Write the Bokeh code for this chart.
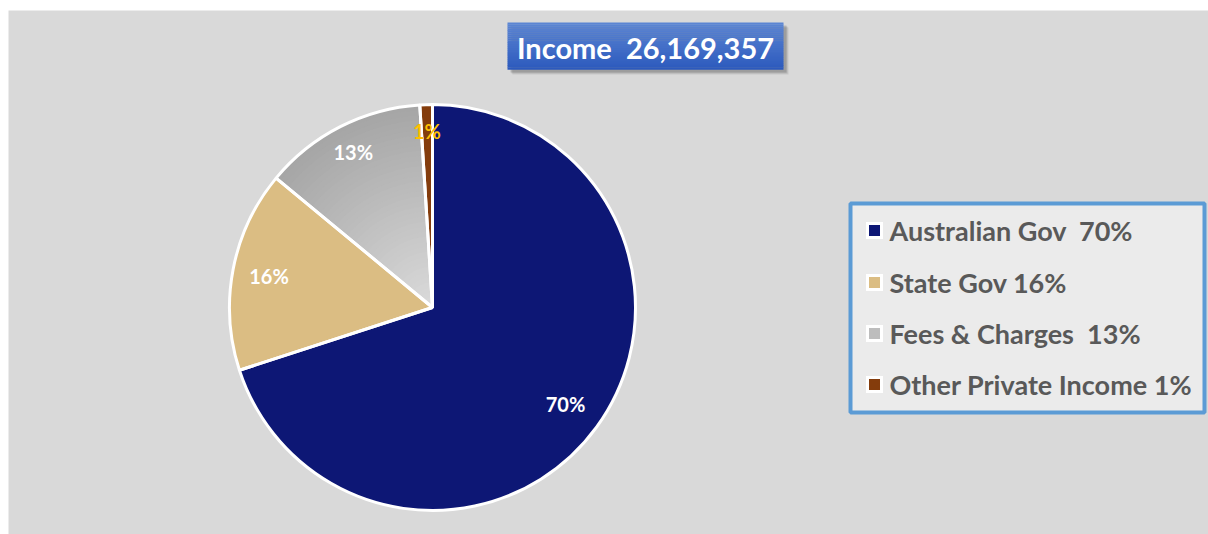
import numpy as np
from bokeh.plotting import figure
from bokeh.models import Range1d
from bokeh.embed import file_html
from bokeh.resources import INLINE
from bokeh.core.properties import value

# ---------------- data ----------------
categories = ["Australian Gov", "State Gov", "Fees & Charges", "Other Private Income"]
shares = [70, 16, 13, 1]
slice_labels = ["70%", "16%", "13%", "1%"]
legend_labels = ["Australian Gov\u00a0 70%", "State Gov 16%", "Fees & Charges\u00a0 13%",
                 "Other Private Income 1%"]
title_text = "Income\u00a0 26,169,357"

# ---------------- styles ----------------
colors = ["#0d1775", "#dbbd83", "#bdbdbd", "#843c0c"]
label_colors = ["white", "white", "white", "#ffc000"]
label_rfrac = [0.81, 0.82, 0.86, 0.87]
FONT = value("Lato")

W, H = 1208, 534
LEFT, TOP = 8, 10


def Y(img_y):
    return H - img_y


p = figure(width=W, height=H, output_backend="svg", toolbar_location=None,
           x_range=Range1d(LEFT, W), y_range=Range1d(0, H - TOP),
           min_border=0, min_border_top=TOP, min_border_left=LEFT,
           min_border_right=0, min_border_bottom=0)
p.background_fill_color = "#d9d9d9"
p.border_fill_color = "white"
p.outline_line_color = None
p.axis.visible = False
p.grid.visible = False

# ---------------- pie ----------------
cx, cy, R = 432, Y(307), 203
frac = np.array(shares, dtype=float) / sum(shares)
cum = np.concatenate([[0], np.cumsum(frac)])
starts = np.pi / 2 - 2 * np.pi * cum[:-1]
ends = np.pi / 2 - 2 * np.pi * cum[1:]

for i in range(len(shares)):
    if categories[i] == "Fees & Charges":
        # radial gradient: darker at rim, lighter toward centre
        N = 40
        c_out = np.array([0xa6, 0xa6, 0xa6])
        c_in = np.array([0xdc, 0xdc, 0xdc])
        for k in range(N):
            t = k / N
            r = R * (1 - t)
            c = (c_out * (1 - t) + c_in * t).astype(int)
            p.wedge(x=cx, y=cy, radius=r, start_angle=starts[i], end_angle=ends[i],
                    direction="clock", fill_color="#%02x%02x%02x" % tuple(c),
                    line_color=None)
    else:
        p.wedge(x=cx, y=cy, radius=R, start_angle=starts[i], end_angle=ends[i],
                direction="clock", fill_color=colors[i], line_color=None)

p.wedge(x=cx, y=cy, radius=R, start_angle=list(starts), end_angle=list(ends),
        direction="clock", fill_alpha=0, line_color="white", line_width=3)

mid = (starts + ends) / 2
lx = [cx + R * f * np.cos(a) for f, a in zip(label_rfrac, mid)]
ly = [cy + R * f * np.sin(a) for f, a in zip(label_rfrac, mid)]
p.text(x=lx, y=ly, text=slice_labels, text_align="center", text_baseline="middle",
       text_font=FONT, text_font_style="bold", text_font_size="20px",
       text_color=label_colors)

# ---------------- title box ----------------
tl, tr, tt, tb = 507, 783, 22, 69
for off, a in [(5, 0.10), (4, 0.15), (3, 0.2)]:
    p.quad(left=tl + off, right=tr + off, top=Y(tt + off), bottom=Y(tb + off),
           fill_color="#404040", fill_alpha=a, line_color=None)
NB = 24
c_top = np.array([0x5c, 0x86, 0xd4])
c_bot = np.array([0x2d, 0x5a, 0xbd])
hb = (tb - tt) / NB
for k in range(NB):
    t = (k + 0.5) / NB
    c = (c_top * (1 - t) + c_bot * t).astype(int)
    p.quad(left=tl, right=tr, top=Y(tt + k * hb), bottom=Y(tt + (k + 1) * hb) - 0.3,
           fill_color="#%02x%02x%02x" % tuple(c), line_color=None)
p.text(x=[(tl + tr) / 2], y=[Y(47)], text=[title_text], text_align="center",
       text_baseline="middle", text_font=FONT, text_font_style="bold",
       text_font_size="29px", text_color="white")

# ---------------- legend ----------------
p.quad(left=850, right=1204, top=Y(203), bottom=Y(412), fill_color="#ebebeb",
       line_color="#5b9bd5", line_width=4)
rows = [Y(230), Y(282), Y(333), Y(384)]
p.rect(x=[874] * 4, y=rows, width=17, height=17, fill_color="white", line_color=None)
p.rect(x=[874] * 4, y=rows, width=11, height=11, fill_color=colors, line_color=None)
p.text(x=[889] * 4, y=rows, text=legend_labels, text_align="left", text_baseline="middle",
       text_font=FONT, text_font_style="bold", text_font_size="27px", text_color="#595959")

open("out.html", "w").write(file_html(p, INLINE))
